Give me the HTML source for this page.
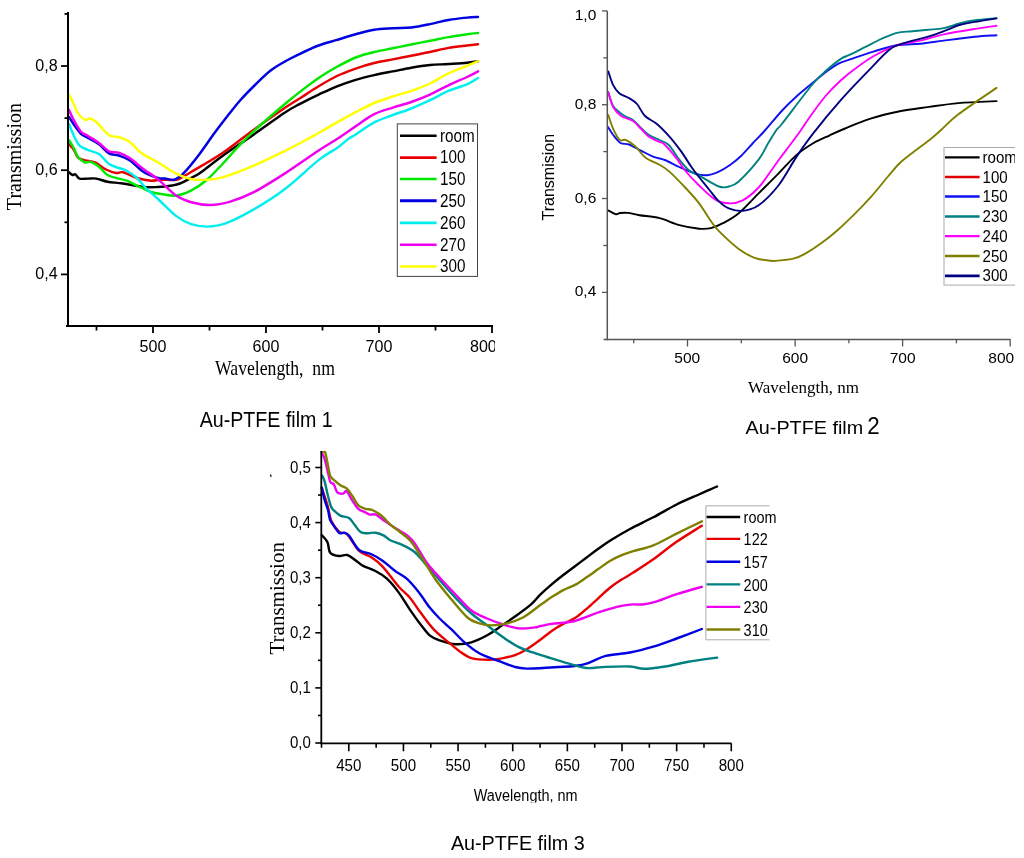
<!DOCTYPE html>
<html><head><meta charset="utf-8"><title>Au-PTFE films transmission</title>
<style>html,body{margin:0;padding:0;background:#fff;} svg{display:block;filter:blur(0.4px);}</style></head>
<body><svg width="1024" height="858" viewBox="0 0 1024 858">
<rect width="1024" height="858" fill="#fff"/>
<defs><clipPath id="cl1"><rect x="0" y="0" width="495" height="440"/></clipPath><clipPath id="cl2"><rect x="520" y="0" width="495" height="440"/></clipPath><clipPath id="cl3"><rect x="260" y="451" width="520" height="352"/></clipPath><clipPath id="cl3b"><rect x="260" y="440" width="520" height="362.5"/></clipPath></defs>
<g clip-path="url(#cl1)">
<g fill="none" stroke-width="2.45" stroke-linejoin="round" stroke-linecap="round">
<path d="M69.0,172.3 C69.6,172.8 71.5,174.7 72.6,175.0 C73.7,175.3 74.2,173.8 75.4,174.4 C76.6,175.0 77.5,177.9 79.6,178.6 C81.7,179.3 85.2,178.6 88.0,178.6 C90.8,178.6 93.2,178.1 96.4,178.6 C99.7,179.1 103.1,181.0 107.5,181.8 C111.9,182.6 116.9,182.6 123.0,183.5 C129.1,184.4 138.2,186.4 144.0,187.0 C149.8,187.6 153.3,187.2 158.0,187.0 C162.7,186.8 168.3,186.1 172.0,185.5 C175.7,184.9 176.8,184.8 180.0,183.5 C183.2,182.2 187.7,179.8 191.0,178.0 C194.3,176.2 194.8,176.7 200.0,173.0 C205.2,169.3 213.5,162.4 222.5,156.0 C231.5,149.6 243.4,141.7 253.8,134.4 C264.2,127.2 277.3,117.6 285.0,112.5 C292.7,107.4 294.4,106.9 300.0,103.9 C305.6,100.9 312.4,97.5 318.6,94.6 C324.8,91.7 330.8,88.8 337.0,86.3 C343.2,83.8 349.5,81.7 355.7,79.8 C361.9,77.9 368.0,76.5 374.2,75.1 C380.4,73.7 386.6,72.6 392.8,71.4 C399.0,70.2 405.1,68.8 411.3,67.7 C417.5,66.6 423.8,65.6 430.0,65.0 C436.2,64.4 442.2,64.4 448.4,64.0 C454.6,63.6 462.1,63.2 467.0,62.7 C471.9,62.2 476.2,61.5 478.0,61.2" stroke="#000000"/>
<path d="M69.0,144.3 C69.8,145.2 72.5,147.8 74.0,150.0 C75.5,152.2 76.2,155.9 78.0,157.6 C79.8,159.3 82.2,159.6 85.0,160.4 C87.8,161.2 91.5,161.0 95.0,162.5 C98.5,164.0 102.5,167.8 106.0,169.5 C109.5,171.2 113.2,172.5 116.0,173.0 C118.8,173.5 119.5,171.5 123.0,172.3 C126.5,173.1 132.3,176.6 137.0,178.0 C141.7,179.4 147.2,180.4 151.0,180.7 C154.8,181.0 156.5,179.8 160.0,179.7 C163.5,179.6 168.9,180.1 172.0,180.0 C175.1,179.9 175.6,180.3 178.8,179.0 C182.0,177.7 183.7,176.3 191.0,172.0 C198.3,167.7 212.0,160.1 222.5,153.0 C233.0,145.9 243.4,137.2 253.8,129.7 C264.2,122.2 277.3,113.0 285.0,107.8 C292.7,102.6 294.4,101.9 300.0,98.3 C305.6,94.7 312.4,90.0 318.6,86.3 C324.8,82.6 330.8,79.0 337.0,76.0 C343.2,73.0 349.5,70.8 355.7,68.6 C361.9,66.4 368.0,64.5 374.2,63.0 C380.4,61.5 386.6,60.6 392.8,59.4 C399.0,58.2 405.1,56.9 411.3,55.7 C417.5,54.5 423.8,53.3 430.0,52.0 C436.2,50.7 442.2,49.0 448.4,47.9 C454.6,46.8 462.1,46.1 467.0,45.5 C471.9,44.9 476.2,44.4 478.0,44.2" stroke="#e80000"/>
<path d="M69.0,140.0 C69.8,141.4 72.5,145.7 74.0,148.5 C75.5,151.3 76.2,154.7 78.0,157.0 C79.8,159.3 82.9,161.7 85.0,162.5 C87.1,163.3 88.5,161.1 90.8,161.8 C93.1,162.5 96.2,164.5 99.0,166.7 C101.8,168.9 104.2,173.0 107.5,175.0 C110.8,177.0 115.5,177.7 118.7,178.6 C122.0,179.5 123.7,179.4 127.0,180.7 C130.3,182.0 134.3,184.4 138.3,186.3 C142.3,188.2 147.4,190.8 151.0,192.0 C154.6,193.2 155.9,193.2 160.0,193.8 C164.1,194.3 170.4,196.1 175.6,195.6 C180.8,195.1 185.8,193.2 191.0,190.6 C196.2,187.9 201.8,184.1 207.0,179.7 C212.2,175.3 217.3,169.5 222.5,164.0 C227.7,158.5 232.8,152.4 238.0,146.9 C243.2,141.4 248.6,136.2 253.8,131.2 C259.0,126.3 263.4,122.4 269.4,117.2 C275.4,112.0 284.6,104.2 289.7,100.0 C294.8,95.8 295.2,95.5 300.0,91.8 C304.8,88.1 312.4,82.2 318.6,78.0 C324.8,73.8 330.8,70.2 337.0,66.8 C343.2,63.4 349.5,60.0 355.7,57.5 C361.9,55.0 368.0,53.5 374.2,52.0 C380.4,50.5 386.6,49.5 392.8,48.2 C399.0,47.0 405.1,45.7 411.3,44.5 C417.5,43.3 423.8,42.0 430.0,40.8 C436.2,39.6 442.2,38.2 448.4,37.1 C454.6,36.0 462.1,35.0 467.0,34.3 C471.9,33.6 476.2,33.2 478.0,33.0" stroke="#00e800"/>
<path d="M69.0,117.0 C69.8,118.3 72.0,122.0 74.0,124.8 C76.0,127.6 78.7,131.6 81.0,133.8 C83.3,136.0 85.0,136.2 88.0,138.0 C91.0,139.8 95.5,141.7 99.0,144.3 C102.5,146.9 105.7,151.5 109.0,153.4 C112.3,155.3 115.2,154.3 118.7,155.5 C122.2,156.7 125.8,157.6 130.0,160.4 C134.2,163.2 139.3,169.4 144.0,172.3 C148.7,175.2 154.5,176.9 158.0,177.9 C161.5,178.9 162.3,178.2 165.0,178.5 C167.7,178.8 170.9,180.5 174.0,179.7 C177.1,178.8 179.2,177.6 183.4,173.4 C187.6,169.2 193.8,161.5 199.0,154.7 C204.2,147.9 209.5,139.8 214.7,132.8 C219.9,125.8 226.0,118.0 230.3,112.5 C234.6,107.0 236.2,104.8 240.5,100.0 C244.8,95.2 251.1,88.8 256.0,84.0 C260.9,79.2 265.2,74.8 270.0,71.0 C274.8,67.2 280.0,64.4 285.0,61.5 C290.0,58.6 294.4,56.5 300.0,53.8 C305.6,51.1 312.4,47.8 318.6,45.5 C324.8,43.2 330.8,41.8 337.0,39.9 C343.2,38.0 349.5,36.0 355.7,34.3 C361.9,32.6 368.0,30.7 374.2,29.7 C380.4,28.7 386.6,28.6 392.8,28.2 C399.0,27.8 405.1,28.2 411.3,27.5 C417.5,26.8 423.8,25.4 430.0,24.1 C436.2,22.9 442.2,21.1 448.4,20.0 C454.6,18.9 462.1,18.1 467.0,17.6 C471.9,17.1 476.2,17.1 478.0,17.0" stroke="#0000e0"/>
<path d="M69.0,124.0 C69.8,126.0 72.2,132.4 74.0,136.0 C75.8,139.6 77.3,143.4 79.6,145.7 C81.9,148.0 84.8,148.6 88.0,150.0 C91.2,151.4 95.5,151.7 99.0,154.0 C102.5,156.3 105.7,161.7 109.0,164.0 C112.3,166.3 115.9,167.0 118.7,168.0 C121.5,169.0 122.7,168.5 125.7,170.2 C128.8,171.9 133.5,174.9 137.0,178.0 C140.5,181.1 143.2,185.5 146.7,189.0 C150.2,192.5 153.2,194.6 158.0,199.0 C162.8,203.4 170.1,211.4 175.6,215.6 C181.1,219.8 186.0,222.4 191.2,224.2 C196.5,226.0 201.3,226.7 207.0,226.6 C212.7,226.5 217.8,226.3 225.6,223.4 C233.4,220.5 243.9,215.1 253.8,209.4 C263.7,203.7 274.1,197.3 285.0,189.0 C295.9,180.7 310.7,166.2 319.4,159.4 C328.1,152.6 332.2,151.4 337.0,148.0 C341.8,144.6 345.1,141.3 348.2,139.1 C351.3,136.8 351.4,137.3 355.7,134.5 C360.0,131.7 368.0,125.7 374.2,122.4 C380.4,119.2 386.6,117.3 392.8,115.0 C399.0,112.7 405.1,111.0 411.3,108.5 C417.5,106.0 423.8,103.1 430.0,100.2 C436.2,97.3 442.2,93.5 448.4,90.9 C454.6,88.3 462.1,86.6 467.0,84.4 C471.9,82.2 476.2,79.1 478.0,78.0" stroke="#00f0f0"/>
<path d="M69.0,110.0 C69.8,111.8 72.0,117.0 74.0,120.6 C76.0,124.2 78.7,129.1 81.0,131.7 C83.3,134.3 85.0,134.1 88.0,136.0 C91.0,137.9 95.5,140.4 99.0,143.0 C102.5,145.6 105.7,149.7 109.0,151.3 C112.3,152.9 115.2,151.5 118.7,152.7 C122.2,153.9 125.8,155.5 130.0,158.3 C134.2,161.1 139.3,166.0 144.0,169.5 C148.7,173.0 152.7,175.0 158.0,179.3 C163.3,183.6 170.1,191.5 175.6,195.3 C181.1,199.1 185.5,200.7 191.2,202.3 C197.0,203.9 203.5,205.1 210.0,205.0 C216.5,204.9 223.0,203.7 230.3,201.6 C237.6,199.5 244.7,196.9 253.8,192.2 C262.9,187.5 274.1,180.4 285.0,173.4 C295.9,166.4 310.7,155.7 319.4,150.0 C328.1,144.3 330.9,143.1 337.0,139.1 C343.1,135.1 349.5,130.4 355.7,126.2 C361.9,122.0 368.0,117.2 374.2,114.1 C380.4,111.0 386.6,109.6 392.8,107.6 C399.0,105.6 405.1,104.2 411.3,102.0 C417.5,99.8 423.8,97.4 430.0,94.6 C436.2,91.8 442.2,88.2 448.4,85.3 C454.6,82.4 462.1,79.3 467.0,77.0 C471.9,74.7 476.2,72.3 478.0,71.4" stroke="#f000f0"/>
<path d="M69.0,94.7 C69.8,96.3 72.5,101.3 74.0,104.5 C75.5,107.7 76.3,111.0 78.2,113.6 C80.1,116.2 83.3,119.1 85.2,119.9 C87.1,120.7 87.5,118.2 89.4,118.5 C91.3,118.8 93.1,119.2 96.4,122.0 C99.7,124.8 105.1,132.6 109.0,135.2 C112.9,137.8 116.5,136.1 120.0,137.3 C123.5,138.5 126.5,139.6 130.0,142.2 C133.5,144.8 136.3,149.3 141.0,152.7 C145.7,156.1 152.2,159.1 158.0,162.5 C163.8,165.9 170.1,170.7 175.6,173.4 C181.1,176.2 185.8,177.9 191.0,179.0 C196.2,180.1 201.8,180.0 207.0,179.7 C212.2,179.4 214.7,179.7 222.5,177.3 C230.3,175.0 243.4,170.0 253.8,165.6 C264.2,161.2 276.3,155.1 285.0,150.8 C293.7,146.5 300.3,143.1 306.0,140.0 C311.7,136.9 314.2,135.4 319.4,132.5 C324.6,129.6 330.9,125.8 337.0,122.4 C343.1,119.0 349.5,115.4 355.7,112.2 C361.9,109.0 368.0,105.6 374.2,103.0 C380.4,100.4 386.6,98.5 392.8,96.5 C399.0,94.5 405.1,93.1 411.3,90.9 C417.5,88.7 423.8,86.4 430.0,83.5 C436.2,80.6 442.2,76.2 448.4,73.3 C454.6,70.4 462.1,67.9 467.0,65.9 C471.9,63.9 476.2,62.0 478.0,61.2" stroke="#ffff00"/>
</g>
<line x1="68" y1="12" x2="68" y2="327" stroke="#000" stroke-width="2"/>
<line x1="66" y1="326" x2="493" y2="326" stroke="#000" stroke-width="2"/>
<line x1="61" y1="274.4" x2="68" y2="274.4" stroke="#000" stroke-width="1.8"/>
<line x1="61" y1="170.2" x2="68" y2="170.2" stroke="#000" stroke-width="1.8"/>
<line x1="61" y1="66.0" x2="68" y2="66.0" stroke="#000" stroke-width="1.8"/>
<line x1="64.5" y1="222.3" x2="68" y2="222.3" stroke="#000" stroke-width="1.8"/>
<line x1="64.5" y1="118.1" x2="68" y2="118.1" stroke="#000" stroke-width="1.8"/>
<line x1="64.5" y1="13.9" x2="68" y2="13.9" stroke="#000" stroke-width="1.8"/>
<line x1="153" y1="326" x2="153" y2="333" stroke="#000" stroke-width="1.8"/>
<line x1="266" y1="326" x2="266" y2="333" stroke="#000" stroke-width="1.8"/>
<line x1="379" y1="326" x2="379" y2="333" stroke="#000" stroke-width="1.8"/>
<line x1="492" y1="326" x2="492" y2="333" stroke="#000" stroke-width="1.8"/>
<line x1="96.5" y1="326" x2="96.5" y2="330.5" stroke="#000" stroke-width="1.8"/>
<line x1="209.5" y1="326" x2="209.5" y2="330.5" stroke="#000" stroke-width="1.8"/>
<line x1="322.5" y1="326" x2="322.5" y2="330.5" stroke="#000" stroke-width="1.8"/>
<line x1="435.5" y1="326" x2="435.5" y2="330.5" stroke="#000" stroke-width="1.8"/>
<text transform="translate(57.6,279.4) scale(0.93,1)" font-family='"Liberation Sans", sans-serif' font-size="17.3" text-anchor="end" fill="#000" >0,4</text>
<text transform="translate(57.6,175.2) scale(0.93,1)" font-family='"Liberation Sans", sans-serif' font-size="17.3" text-anchor="end" fill="#000" >0,6</text>
<text transform="translate(57.6,71.0) scale(0.93,1)" font-family='"Liberation Sans", sans-serif' font-size="17.3" text-anchor="end" fill="#000" >0,8</text>
<text transform="translate(153,352) scale(0.93,1)" font-family='"Liberation Sans", sans-serif' font-size="17.3" text-anchor="middle" fill="#000" >500</text>
<text transform="translate(266,352) scale(0.93,1)" font-family='"Liberation Sans", sans-serif' font-size="17.3" text-anchor="middle" fill="#000" >600</text>
<text transform="translate(379,352) scale(0.93,1)" font-family='"Liberation Sans", sans-serif' font-size="17.3" text-anchor="middle" fill="#000" >700</text>
<text transform="translate(483.4,352) scale(0.93,1)" font-family='"Liberation Sans", sans-serif' font-size="17.3" text-anchor="middle" fill="#000" >800</text>
<text transform="translate(21,156.6) rotate(-90)" font-family='"Liberation Serif", serif' font-size="20" text-anchor="middle" fill="#000" >Transmission</text>
<text transform="translate(215.0,375.3) scale(0.885,1)" font-family='"Liberation Serif", serif' font-size="20" text-anchor="start" fill="#000" >Wavelength,&#160; nm</text>
<rect x="397.3" y="123.9" width="80.2" height="152.5" fill="#fff" stroke="#444" stroke-width="1"/>
<line x1="400" y1="135.8" x2="436.6" y2="135.8" stroke="#000" stroke-width="2.6"/>
<text transform="translate(440.0,141.60000000000002) scale(0.87,1)" font-family='"Liberation Sans", sans-serif' font-size="17.5" text-anchor="start" fill="#000" >room</text>
<line x1="400" y1="157.6" x2="436.6" y2="157.6" stroke="#e80000" stroke-width="2.6"/>
<text transform="translate(440.0,163.4) scale(0.87,1)" font-family='"Liberation Sans", sans-serif' font-size="17.5" text-anchor="start" fill="#000" >100</text>
<line x1="400" y1="179.0" x2="436.6" y2="179.0" stroke="#00e800" stroke-width="2.6"/>
<text transform="translate(440.0,184.8) scale(0.87,1)" font-family='"Liberation Sans", sans-serif' font-size="17.5" text-anchor="start" fill="#000" >150</text>
<line x1="400" y1="200.7" x2="436.6" y2="200.7" stroke="#0000e0" stroke-width="3.0"/>
<text transform="translate(440.0,206.5) scale(0.87,1)" font-family='"Liberation Sans", sans-serif' font-size="17.5" text-anchor="start" fill="#000" >250</text>
<line x1="400" y1="222.9" x2="436.6" y2="222.9" stroke="#00f0f0" stroke-width="2.6"/>
<text transform="translate(440.0,228.70000000000002) scale(0.87,1)" font-family='"Liberation Sans", sans-serif' font-size="17.5" text-anchor="start" fill="#000" >260</text>
<line x1="400" y1="244.7" x2="436.6" y2="244.7" stroke="#f000f0" stroke-width="2.6"/>
<text transform="translate(440.0,250.5) scale(0.87,1)" font-family='"Liberation Sans", sans-serif' font-size="17.5" text-anchor="start" fill="#000" >270</text>
<line x1="400" y1="266.5" x2="436.6" y2="266.5" stroke="#ffff00" stroke-width="2.6"/>
<text transform="translate(440.0,272.3) scale(0.87,1)" font-family='"Liberation Sans", sans-serif' font-size="17.5" text-anchor="start" fill="#000" >300</text>
</g>
<text transform="translate(199.7,426.9) scale(0.905,1)" font-family='"Liberation Sans", sans-serif' font-size="21.7" text-anchor="start" fill="#000" >Au-PTFE film 1</text>
<g clip-path="url(#cl2)">
<g fill="none" stroke-width="1.9" stroke-linejoin="round" stroke-linecap="round">
<path d="M608.0,210.3 C609.3,211.0 613.9,213.8 615.9,214.2 C617.9,214.6 618.0,213.2 620.0,213.0 C622.0,212.8 624.4,212.5 627.7,212.9 C631.0,213.3 634.3,214.3 639.6,215.2 C644.9,216.1 652.9,216.5 659.5,218.2 C666.1,219.8 672.7,223.3 679.3,225.1 C685.9,226.8 693.8,228.2 699.1,228.7 C704.4,229.2 707.0,229.0 711.0,228.1 C715.0,227.2 718.3,225.7 722.9,223.2 C727.5,220.7 732.8,218.2 738.7,213.2 C744.7,208.2 752.0,200.0 758.6,193.4 C765.2,186.8 772.1,180.0 778.4,173.6 C784.7,167.2 790.8,159.9 796.6,154.9 C802.4,149.9 807.7,146.6 813.2,143.3 C818.7,140.0 824.5,137.8 829.8,135.3 C835.1,132.8 838.2,131.3 845.0,128.5 C851.8,125.7 861.4,121.6 870.5,118.7 C879.6,115.8 890.0,113.3 899.8,111.3 C909.6,109.3 919.3,108.3 929.1,106.9 C938.9,105.5 947.2,104.1 958.4,103.1 C969.6,102.1 990.1,101.4 996.5,101.1" stroke="#000000"/>
<path d="M608.0,127.0 C608.9,128.3 611.1,132.3 613.2,135.0 C615.3,137.7 617.9,141.4 620.5,143.0 C623.1,144.6 625.6,143.2 629.0,144.5 C632.4,145.8 637.0,148.6 641.0,150.6 C645.0,152.6 648.9,155.0 652.9,156.6 C656.9,158.2 660.4,158.3 664.8,160.0 C669.2,161.7 674.2,164.7 679.3,167.0 C684.3,169.3 690.5,172.2 695.1,173.6 C699.7,175.0 703.0,175.5 707.0,175.2 C711.0,174.9 715.1,173.3 718.9,171.6 C722.7,169.9 726.3,167.6 730.0,165.0 C733.7,162.4 737.2,159.7 741.0,156.0 C744.8,152.3 749.1,147.2 753.0,143.0 C756.9,138.8 759.6,136.5 764.5,131.0 C769.4,125.5 777.2,115.8 782.6,110.0 C788.0,104.2 792.1,100.4 797.0,96.0 C801.9,91.6 807.1,87.5 811.9,83.5 C816.7,79.5 821.6,75.3 826.0,72.0 C830.4,68.7 834.0,65.9 838.0,63.8 C842.0,61.7 844.1,61.4 850.0,59.4 C855.9,57.4 865.6,54.0 873.4,51.6 C881.2,49.2 889.1,46.6 896.9,45.3 C904.7,44.0 912.5,44.5 920.3,43.8 C928.1,43.0 934.6,41.8 943.8,40.6 C952.9,39.4 966.2,37.6 975.0,36.7 C983.8,35.8 992.9,35.5 996.5,35.2" stroke="#1010f0"/>
<path d="M608.3,92.0 C609.1,94.3 610.7,102.2 613.2,106.0 C615.7,109.8 619.9,112.7 623.2,115.0 C626.5,117.3 630.0,117.8 633.0,120.0 C636.0,122.2 638.3,125.5 641.0,128.0 C643.7,130.5 645.9,133.0 649.0,135.0 C652.1,137.0 656.2,138.3 659.5,140.0 C662.8,141.7 665.5,141.7 668.8,145.0 C672.1,148.3 676.0,155.5 679.3,159.7 C682.6,163.9 685.3,167.3 688.6,170.0 C691.9,172.7 694.1,172.8 699.1,175.6 C704.1,178.3 714.0,184.7 718.9,186.5 C723.8,188.3 725.5,187.3 728.8,186.5 C732.1,185.7 733.7,186.0 738.7,181.5 C743.7,177.0 753.7,166.0 758.6,159.7 C763.5,153.4 765.0,148.5 768.0,143.6 C771.0,138.7 774.0,133.4 776.4,130.0 C778.8,126.6 776.7,130.5 782.6,123.0 C788.5,115.5 804.6,93.8 811.9,85.0 C819.2,76.2 821.6,74.7 826.5,70.3 C831.4,65.9 837.3,61.2 841.2,58.6 C845.1,56.0 845.9,56.7 850.0,54.7 C854.1,52.8 860.4,49.5 865.6,46.9 C870.8,44.3 876.0,41.4 881.2,39.0 C886.5,36.6 891.7,34.1 896.9,32.8 C902.1,31.5 907.3,31.8 912.5,31.2 C917.7,30.7 922.9,30.2 928.1,29.7 C933.3,29.2 938.5,29.2 943.8,28.1 C949.0,27.1 954.2,24.7 959.4,23.4 C964.6,22.1 968.8,21.2 975.0,20.3 C981.2,19.4 992.9,18.6 996.5,18.2" stroke="#008080"/>
<path d="M608.3,92.2 C609.1,94.7 611.1,103.0 613.2,107.0 C615.4,111.0 617.9,113.7 621.2,116.0 C624.5,118.3 629.7,118.9 633.0,121.0 C636.3,123.1 638.3,126.2 641.0,128.8 C643.7,131.4 645.9,134.6 649.0,136.8 C652.1,139.0 656.9,140.6 659.5,141.9 C662.1,143.2 661.9,141.9 664.8,144.7 C667.7,147.5 673.4,154.4 676.7,158.6 C680.0,162.8 680.9,165.5 684.6,170.0 C688.3,174.5 694.0,180.6 699.1,185.5 C704.2,190.4 710.0,196.4 715.0,199.4 C720.0,202.4 724.2,203.1 728.8,203.3 C733.4,203.5 737.7,203.0 742.7,200.4 C747.7,197.8 753.9,192.4 758.6,187.5 C763.3,182.6 767.3,175.9 770.9,171.0 C774.5,166.1 776.8,162.5 780.0,158.2 C783.2,153.9 786.7,149.4 790.0,145.0 C793.3,140.6 796.4,136.7 800.0,131.5 C803.6,126.3 807.6,120.0 811.9,114.0 C816.2,108.0 821.1,101.2 826.0,95.5 C830.9,89.8 836.4,84.4 841.2,80.0 C846.0,75.6 849.3,73.0 854.7,69.0 C860.1,65.0 866.4,60.2 873.4,56.2 C880.4,52.3 889.1,47.9 896.9,45.3 C904.7,42.7 912.5,42.4 920.3,40.6 C928.1,38.8 934.6,36.4 943.8,34.4 C952.9,32.4 966.2,30.3 975.0,28.9 C983.8,27.5 992.9,26.3 996.5,25.8" stroke="#ff00ff"/>
<path d="M608.3,115.0 C609.1,117.3 611.3,124.7 613.2,128.8 C615.1,133.0 617.7,138.1 619.8,139.9 C621.9,141.8 623.1,138.8 625.8,139.9 C628.4,141.1 632.4,143.8 635.7,146.8 C639.0,149.8 641.6,154.8 645.6,157.8 C649.6,160.8 655.5,162.4 659.5,164.7 C663.5,167.0 665.1,167.8 669.4,171.6 C673.7,175.4 680.2,182.2 685.2,187.5 C690.2,192.8 694.8,197.7 699.1,203.3 C703.4,208.9 707.7,216.6 711.0,221.2 C714.3,225.8 714.3,226.5 718.9,231.1 C723.5,235.7 732.8,244.4 738.7,248.9 C744.7,253.4 749.3,255.8 754.6,257.8 C759.9,259.8 766.3,260.4 770.5,260.8 C774.7,261.2 776.2,260.8 780.0,260.4 C783.8,260.0 789.1,259.8 793.3,258.7 C797.4,257.6 800.2,256.4 804.9,253.8 C809.6,251.2 816.0,247.0 821.5,243.0 C827.0,239.0 832.6,234.5 838.1,229.7 C843.6,224.8 849.2,219.4 854.8,213.9 C860.3,208.4 865.9,202.6 871.4,196.4 C876.9,190.2 883.3,182.0 888.0,176.5 C892.7,171.0 895.5,167.2 899.6,163.2 C903.8,159.2 907.9,156.3 912.9,152.4 C917.9,148.5 924.8,143.7 929.5,140.0 C934.2,136.3 936.3,134.3 941.1,130.0 C945.9,125.7 949.2,121.3 958.4,114.3 C967.6,107.3 990.1,92.3 996.5,87.9" stroke="#808000"/>
<path d="M608.3,71.4 C609.1,73.7 611.4,81.6 613.2,85.2 C615.0,88.8 616.6,91.1 619.2,93.2 C621.9,95.3 626.1,96.3 629.1,98.1 C632.1,99.9 634.4,101.0 637.0,104.0 C639.6,107.0 641.7,112.7 645.0,116.0 C648.3,119.3 652.9,120.6 656.9,123.9 C660.9,127.2 664.8,131.4 668.8,135.8 C672.8,140.2 676.6,145.2 680.6,150.6 C684.6,156.0 687.8,162.0 692.5,168.5 C697.2,175.0 704.6,184.0 709.0,189.5 C713.4,195.0 715.6,198.3 718.9,201.4 C722.2,204.5 724.8,206.7 728.8,208.3 C732.8,209.9 737.7,211.4 742.7,210.9 C747.7,210.4 752.7,209.5 758.6,205.3 C764.5,201.1 772.1,193.6 778.4,185.5 C784.7,177.4 790.8,165.3 796.6,156.6 C802.4,147.9 805.8,142.8 813.2,133.3 C820.6,123.8 831.7,110.4 841.2,99.6 C850.7,88.8 862.3,77.0 870.3,68.8 C878.3,60.5 883.8,54.2 889.0,50.0 C894.2,45.8 895.1,46.0 901.6,43.8 C908.1,41.5 921.1,38.8 928.1,36.7 C935.1,34.6 938.5,33.2 943.8,31.2 C949.0,29.3 954.2,26.6 959.4,25.0 C964.6,23.4 968.8,23.0 975.0,21.9 C981.2,20.8 992.9,19.0 996.5,18.4" stroke="#000080"/>
</g>
<line x1="607.3" y1="10.9" x2="607.3" y2="340.3" stroke="#555" stroke-width="1.5"/>
<line x1="603.5" y1="339.6" x2="1010.5" y2="339.6" stroke="#555" stroke-width="1.5"/>
<line x1="602" y1="10.9" x2="607.3" y2="10.9" stroke="#555" stroke-width="1.3"/>
<line x1="602" y1="104.7" x2="607.3" y2="104.7" stroke="#555" stroke-width="1.3"/>
<line x1="602" y1="198.5" x2="607.3" y2="198.5" stroke="#555" stroke-width="1.3"/>
<line x1="602" y1="292.4" x2="607.3" y2="292.4" stroke="#555" stroke-width="1.3"/>
<line x1="603.3" y1="57.8" x2="607.3" y2="57.8" stroke="#555" stroke-width="1.3"/>
<line x1="603.3" y1="151.6" x2="607.3" y2="151.6" stroke="#555" stroke-width="1.3"/>
<line x1="603.3" y1="245.5" x2="607.3" y2="245.5" stroke="#555" stroke-width="1.3"/>
<line x1="687.5" y1="339.6" x2="687.5" y2="346.5" stroke="#555" stroke-width="1.3"/>
<line x1="795.1" y1="339.6" x2="795.1" y2="346.5" stroke="#555" stroke-width="1.3"/>
<line x1="902.6" y1="339.6" x2="902.6" y2="346.5" stroke="#555" stroke-width="1.3"/>
<line x1="1010.2" y1="339.6" x2="1010.2" y2="346.5" stroke="#555" stroke-width="1.3"/>
<line x1="633.7" y1="339.6" x2="633.7" y2="343.3" stroke="#555" stroke-width="1.3"/>
<line x1="741.3" y1="339.6" x2="741.3" y2="343.3" stroke="#555" stroke-width="1.3"/>
<line x1="848.9" y1="339.6" x2="848.9" y2="343.3" stroke="#555" stroke-width="1.3"/>
<line x1="956.4" y1="339.6" x2="956.4" y2="343.3" stroke="#555" stroke-width="1.3"/>
<text transform="translate(596.3,19.8)" font-family='"Liberation Sans", sans-serif' font-size="15.5" text-anchor="end" fill="#000" >1,0</text>
<text transform="translate(596.3,108.7)" font-family='"Liberation Sans", sans-serif' font-size="15.5" text-anchor="end" fill="#000" >0,8</text>
<text transform="translate(596.3,202.5)" font-family='"Liberation Sans", sans-serif' font-size="15.5" text-anchor="end" fill="#000" >0,6</text>
<text transform="translate(596.3,296.4)" font-family='"Liberation Sans", sans-serif' font-size="15.5" text-anchor="end" fill="#000" >0,4</text>
<text transform="translate(687.3,363)" font-family='"Liberation Sans", sans-serif' font-size="15.5" text-anchor="middle" fill="#000" >500</text>
<text transform="translate(795.1,363)" font-family='"Liberation Sans", sans-serif' font-size="15.5" text-anchor="middle" fill="#000" >600</text>
<text transform="translate(902.6,363)" font-family='"Liberation Sans", sans-serif' font-size="15.5" text-anchor="middle" fill="#000" >700</text>
<text transform="translate(1001.2,363)" font-family='"Liberation Sans", sans-serif' font-size="15.5" text-anchor="middle" fill="#000" >800</text>
<text transform="translate(554.4,177.2) rotate(-90)" font-family='"Liberation Sans", sans-serif' font-size="16" text-anchor="middle" fill="#000" >Transmision</text>
<text transform="translate(748,393.1)" font-family='"Liberation Serif", serif' font-size="17" text-anchor="start" fill="#000" >Wavelength, nm</text>
<rect x="944" y="147.5" width="80" height="137.6" fill="#fff" stroke="#aaa" stroke-width="1"/>
<line x1="945" y1="157.4" x2="979.6" y2="157.4" stroke="#000" stroke-width="2.3"/>
<text transform="translate(982.6,163.0) scale(0.93,1)" font-family='"Liberation Sans", sans-serif' font-size="16.2" text-anchor="start" fill="#000" >room</text>
<line x1="945" y1="177.0" x2="979.6" y2="177.0" stroke="#e00000" stroke-width="2.3"/>
<text transform="translate(982.6,182.6) scale(0.93,1)" font-family='"Liberation Sans", sans-serif' font-size="16.2" text-anchor="start" fill="#000" >100</text>
<line x1="945" y1="196.5" x2="979.6" y2="196.5" stroke="#1010f0" stroke-width="2.3"/>
<text transform="translate(982.6,202.1) scale(0.93,1)" font-family='"Liberation Sans", sans-serif' font-size="16.2" text-anchor="start" fill="#000" >150</text>
<line x1="945" y1="216.5" x2="979.6" y2="216.5" stroke="#008080" stroke-width="2.3"/>
<text transform="translate(982.6,222.1) scale(0.93,1)" font-family='"Liberation Sans", sans-serif' font-size="16.2" text-anchor="start" fill="#000" >230</text>
<line x1="945" y1="236.1" x2="979.6" y2="236.1" stroke="#ff00ff" stroke-width="2.3"/>
<text transform="translate(982.6,241.7) scale(0.93,1)" font-family='"Liberation Sans", sans-serif' font-size="16.2" text-anchor="start" fill="#000" >240</text>
<line x1="945" y1="256.0" x2="979.6" y2="256.0" stroke="#808000" stroke-width="2.7"/>
<text transform="translate(982.6,261.6) scale(0.93,1)" font-family='"Liberation Sans", sans-serif' font-size="16.2" text-anchor="start" fill="#000" >250</text>
<line x1="945" y1="275.8" x2="979.6" y2="275.8" stroke="#000080" stroke-width="2.7"/>
<text transform="translate(982.6,281.40000000000003) scale(0.93,1)" font-family='"Liberation Sans", sans-serif' font-size="16.2" text-anchor="start" fill="#000" >300</text>
</g>
<text transform="translate(745.6,434) scale(1.07,1)" font-family='"Liberation Sans", sans-serif' font-size="18.5" text-anchor="start" fill="#000" >Au-PTFE film</text>
<text transform="translate(867.3,434.2) scale(0.95,1)" font-family='"Liberation Sans", sans-serif' font-size="23.5" text-anchor="start" fill="#000" >2</text>
<g clip-path="url(#cl3)">
<g fill="none" stroke-width="2.4" stroke-linejoin="round" stroke-linecap="round">
<path d="M321.8,535.1 C322.7,536.3 326.0,539.1 327.4,542.1 C328.8,545.1 328.4,550.7 330.4,553.0 C332.4,555.3 336.5,555.7 339.3,556.0 C342.1,556.3 344.6,554.4 347.2,555.0 C349.8,555.6 352.5,558.1 355.1,559.9 C357.8,561.7 359.8,564.1 363.1,565.9 C366.4,567.7 371.0,568.7 375.0,570.8 C379.0,572.9 382.9,575.1 386.9,578.7 C390.9,582.3 395.0,587.5 398.8,592.6 C402.6,597.8 406.4,604.5 409.9,609.6 C413.4,614.7 416.5,619.1 419.8,623.4 C423.1,627.7 426.4,632.5 429.7,635.3 C433.0,638.1 435.3,638.8 439.6,640.3 C443.9,641.8 450.2,643.9 455.5,644.2 C460.8,644.5 466.1,643.8 471.4,642.3 C476.7,640.8 482.6,637.8 487.2,635.3 C491.8,632.8 494.5,630.5 499.1,627.4 C503.7,624.3 509.7,620.3 515.0,616.5 C520.3,612.7 526.6,608.2 530.8,604.6 C535.0,601.0 536.5,598.2 540.0,594.8 C543.5,591.4 547.8,587.6 551.7,584.3 C555.6,581.0 559.4,578.0 563.3,575.0 C567.2,572.0 571.1,569.1 575.0,566.2 C578.9,563.3 582.7,560.4 586.6,557.5 C590.5,554.6 594.2,551.6 598.3,548.7 C602.4,545.8 605.8,543.3 611.1,540.0 C616.4,536.7 623.0,532.8 630.0,529.0 C637.0,525.2 645.5,521.4 653.3,517.3 C661.1,513.2 668.8,508.4 676.6,504.5 C684.4,500.6 693.3,497.0 700.0,494.0 C706.7,491.0 714.2,487.8 717.0,486.5" stroke="#000000"/>
<path d="M321.8,488.0 C322.7,490.8 325.8,499.5 327.4,505.0 C329.0,510.5 329.4,516.5 331.4,521.0 C333.4,525.5 336.7,529.8 339.3,532.0 C341.9,534.2 343.9,531.3 347.2,534.5 C350.5,537.7 355.1,547.2 359.1,551.0 C363.1,554.8 367.0,554.4 371.0,557.0 C375.0,559.6 378.3,561.9 382.9,566.9 C387.5,571.9 394.3,581.6 398.8,586.7 C403.3,591.8 406.4,593.6 409.9,597.7 C413.4,601.8 415.8,606.2 419.8,611.5 C423.8,616.8 428.7,624.1 433.7,629.4 C438.7,634.7 445.3,639.6 449.6,643.2 C453.9,646.8 455.9,648.7 459.5,651.2 C463.1,653.7 466.4,656.7 471.4,658.1 C476.3,659.5 483.9,659.7 489.2,659.7 C494.5,659.7 498.8,658.9 503.1,658.1 C507.4,657.3 511.0,656.6 515.0,655.1 C519.0,653.6 522.7,651.7 526.9,649.2 C531.1,646.7 535.9,643.0 540.0,640.0 C544.1,637.0 547.8,633.6 551.7,630.9 C555.6,628.2 559.4,626.0 563.3,623.9 C567.2,621.8 571.1,620.6 575.0,618.1 C578.9,615.6 582.7,612.1 586.6,608.8 C590.5,605.5 594.4,601.8 598.3,598.3 C602.2,594.8 606.0,590.9 609.9,587.8 C613.8,584.7 617.7,582.1 621.6,579.6 C625.5,577.1 627.9,576.0 633.2,572.6 C638.5,569.2 646.1,564.4 653.3,559.3 C660.5,554.2 668.5,547.4 676.6,541.8 C684.7,536.2 697.6,528.5 701.8,525.8" stroke="#e80000"/>
<path d="M321.8,487.6 C322.2,489.6 323.5,495.7 324.5,499.4 C325.5,503.1 327.0,506.5 328.0,510.0 C329.0,513.5 329.1,517.5 330.3,520.4 C331.5,523.3 333.4,525.3 335.0,527.4 C336.6,529.5 338.1,532.3 339.6,533.2 C341.2,534.1 342.7,532.3 344.3,532.7 C345.9,533.1 346.5,532.7 349.0,535.6 C351.5,538.5 355.4,546.9 359.1,550.0 C362.8,553.1 367.0,552.2 371.0,554.0 C375.0,555.8 378.9,558.1 382.9,560.9 C386.9,563.7 390.8,567.8 394.8,570.8 C398.8,573.8 402.7,575.1 406.7,578.7 C410.7,582.3 415.2,587.7 419.0,592.5 C422.8,597.3 426.3,603.3 429.7,607.6 C433.1,611.9 436.0,614.9 439.6,618.5 C443.2,622.1 447.5,625.6 451.5,629.4 C455.5,633.2 458.8,637.3 463.4,641.3 C468.0,645.3 473.4,649.9 479.3,653.2 C485.2,656.5 493.2,658.8 499.1,661.1 C505.1,663.4 510.4,665.8 515.0,667.0 C519.6,668.2 522.3,668.4 526.9,668.6 C531.5,668.8 537.4,668.3 542.7,668.0 C548.0,667.7 553.3,667.3 558.6,667.0 C563.9,666.7 569.5,666.6 574.4,666.0 C579.3,665.4 583.1,664.8 588.3,663.1 C593.5,661.4 598.6,657.7 605.6,655.9 C612.6,654.1 622.0,654.0 630.0,652.5 C638.0,651.0 645.5,649.0 653.3,646.7 C661.1,644.4 668.5,641.5 676.6,638.5 C684.7,635.5 697.6,630.6 701.8,629.0" stroke="#0000e0"/>
<path d="M322.1,475.5 C322.5,476.4 323.5,477.4 324.5,480.8 C325.5,484.2 326.8,491.5 328.0,496.0 C329.2,500.5 330.1,504.9 331.5,507.6 C332.9,510.3 334.6,510.9 336.1,512.3 C337.7,513.7 338.7,514.8 340.8,515.8 C342.9,516.8 346.7,516.5 349.0,518.1 C351.3,519.7 352.9,522.8 354.8,525.1 C356.7,527.4 358.5,530.8 360.6,532.1 C362.7,533.5 365.1,533.1 367.6,533.2 C370.1,533.3 373.1,532.3 375.8,532.7 C378.5,533.1 381.6,534.4 383.9,535.6 C386.2,536.8 386.6,538.4 389.7,540.0 C392.8,541.6 398.5,543.1 402.7,545.1 C406.9,547.1 411.0,549.0 414.6,552.0 C418.2,555.0 420.5,558.4 424.5,562.9 C428.5,567.4 433.2,572.9 438.4,578.7 C443.6,584.5 450.0,591.9 455.5,597.7 C461.0,603.5 466.1,608.9 471.4,613.5 C476.7,618.1 481.9,621.4 487.2,625.4 C492.5,629.4 497.8,633.7 503.1,637.3 C508.4,640.9 513.6,644.6 518.9,647.2 C524.2,649.9 529.5,651.4 534.8,653.2 C540.1,655.0 544.6,656.3 550.6,658.1 C556.6,659.9 564.5,662.5 570.5,664.1 C576.5,665.8 580.4,667.5 586.3,668.0 C592.1,668.5 598.3,667.1 605.6,666.9 C612.9,666.6 623.6,666.2 630.0,666.5 C636.4,666.8 638.2,668.8 644.0,668.8 C649.8,668.8 657.6,667.7 665.0,666.5 C672.4,665.3 679.6,663.3 688.3,661.8 C697.0,660.3 712.4,658.3 717.2,657.6" stroke="#008080"/>
<path d="M321.6,452.8 C322.1,453.8 323.4,455.3 324.5,458.6 C325.6,461.9 327.0,468.7 328.0,472.6 C329.0,476.5 329.3,480.1 330.3,482.0 C331.3,483.9 332.6,482.6 333.8,484.3 C335.0,486.0 335.8,490.8 337.3,492.4 C338.9,493.9 341.6,493.8 343.1,493.6 C344.7,493.4 345.1,490.1 346.6,491.3 C348.2,492.5 350.4,497.7 352.4,500.6 C354.3,503.5 356.1,506.9 358.3,508.8 C360.5,510.8 363.4,511.3 365.3,512.3 C367.2,513.3 368.1,514.2 369.9,514.6 C371.6,515.0 373.5,513.6 375.8,514.6 C378.1,515.6 381.0,518.4 383.9,520.4 C386.8,522.4 390.5,525.0 393.2,526.8 C395.9,528.5 397.8,529.5 400.0,530.9 C402.2,532.3 404.3,533.1 406.7,535.1 C409.1,537.1 411.2,538.5 414.6,543.1 C418.0,547.8 422.8,557.2 427.0,563.0 C431.2,568.8 435.0,572.5 440.0,578.0 C445.0,583.5 451.8,590.6 457.0,596.0 C462.2,601.4 466.4,606.8 471.4,610.5 C476.4,614.2 481.9,616.2 487.2,618.5 C492.5,620.8 497.8,622.8 503.1,624.4 C508.4,626.0 513.6,627.9 518.9,628.4 C524.2,628.9 531.3,627.8 534.8,627.4 C538.3,627.0 537.2,626.8 540.0,626.2 C542.8,625.6 547.8,624.5 551.7,623.9 C555.6,623.3 559.4,623.3 563.3,622.8 C567.2,622.3 571.1,622.0 575.0,621.0 C578.9,620.0 582.7,618.4 586.6,616.9 C590.5,615.4 594.4,613.6 598.3,612.3 C602.2,610.9 606.0,609.9 609.9,608.8 C613.8,607.7 617.7,606.6 621.6,605.9 C625.5,605.2 629.9,604.6 633.2,604.4 C636.6,604.2 638.4,604.8 641.7,604.5 C645.1,604.2 647.5,604.1 653.3,602.4 C659.1,600.7 668.5,596.8 676.6,594.2 C684.7,591.6 697.6,588.0 701.8,586.8" stroke="#f000f0"/>
<path d="M323.3,451.7 C323.6,451.7 324.2,449.4 325.0,451.7 C325.8,454.0 327.1,461.5 328.0,465.6 C328.9,469.7 329.1,473.6 330.3,476.1 C331.5,478.6 333.2,479.2 335.0,480.8 C336.8,482.4 338.9,484.2 340.8,485.5 C342.7,486.8 344.7,486.6 346.6,488.4 C348.5,490.1 350.4,493.2 352.4,496.0 C354.3,498.8 356.1,503.2 358.3,505.3 C360.5,507.4 363.0,508.0 365.3,508.8 C367.6,509.6 369.6,508.8 372.3,510.0 C375.0,511.2 378.5,513.3 381.6,515.8 C384.7,518.3 387.8,522.4 390.9,525.1 C394.0,527.8 396.7,529.3 400.0,532.0 C403.3,534.7 406.9,536.6 410.6,541.1 C414.4,545.6 418.3,552.5 422.5,558.9 C426.7,565.3 430.9,573.0 435.7,579.8 C440.5,586.6 446.2,593.3 451.5,599.6 C456.8,605.9 462.8,613.5 467.4,617.5 C472.0,621.5 475.3,622.1 479.3,623.4 C483.3,624.7 486.6,625.4 491.2,625.4 C495.8,625.4 501.7,624.7 507.0,623.4 C512.3,622.1 517.4,620.5 522.9,617.5 C528.4,614.5 535.2,608.7 540.0,605.3 C544.8,601.9 547.8,599.6 551.7,597.1 C555.6,594.6 559.4,592.1 563.3,590.1 C567.2,588.1 571.1,587.0 575.0,584.9 C578.9,582.8 582.7,579.9 586.6,577.3 C590.5,574.7 594.4,571.8 598.3,569.1 C602.2,566.4 606.0,563.3 609.9,561.0 C613.8,558.7 617.7,556.9 621.6,555.2 C625.5,553.6 627.9,552.8 633.2,551.1 C638.5,549.5 646.1,548.2 653.3,545.3 C660.5,542.4 668.5,537.6 676.6,533.6 C684.7,529.6 697.7,523.3 701.9,521.3" stroke="#808000"/>
</g>
</g>
<line x1="321.3" y1="451" x2="321.3" y2="744" stroke="#000" stroke-width="1.8"/>
<line x1="320.5" y1="743.4" x2="731.5" y2="743.4" stroke="#000" stroke-width="1.8"/>
<line x1="315.3" y1="743.0" x2="321.3" y2="743.0" stroke="#000" stroke-width="1.6"/>
<line x1="315.3" y1="687.9" x2="321.3" y2="687.9" stroke="#000" stroke-width="1.6"/>
<line x1="315.3" y1="632.8" x2="321.3" y2="632.8" stroke="#000" stroke-width="1.6"/>
<line x1="315.3" y1="577.7" x2="321.3" y2="577.7" stroke="#000" stroke-width="1.6"/>
<line x1="315.3" y1="522.6" x2="321.3" y2="522.6" stroke="#000" stroke-width="1.6"/>
<line x1="315.3" y1="467.5" x2="321.3" y2="467.5" stroke="#000" stroke-width="1.6"/>
<line x1="318" y1="715.45" x2="321.3" y2="715.45" stroke="#000" stroke-width="1.6"/>
<line x1="318" y1="660.35" x2="321.3" y2="660.35" stroke="#000" stroke-width="1.6"/>
<line x1="318" y1="605.25" x2="321.3" y2="605.25" stroke="#000" stroke-width="1.6"/>
<line x1="318" y1="550.15" x2="321.3" y2="550.15" stroke="#000" stroke-width="1.6"/>
<line x1="318" y1="495.04999999999995" x2="321.3" y2="495.04999999999995" stroke="#000" stroke-width="1.6"/>
<line x1="348.8" y1="743.4" x2="348.8" y2="751.3" stroke="#000" stroke-width="1.6"/>
<text transform="translate(348.8,771) scale(0.9,1)" font-family='"Liberation Sans", sans-serif' font-size="16.8" text-anchor="middle" fill="#000" >450</text>
<line x1="403.44" y1="743.4" x2="403.44" y2="751.3" stroke="#000" stroke-width="1.6"/>
<text transform="translate(403.44,771) scale(0.9,1)" font-family='"Liberation Sans", sans-serif' font-size="16.8" text-anchor="middle" fill="#000" >500</text>
<line x1="458.08000000000004" y1="743.4" x2="458.08000000000004" y2="751.3" stroke="#000" stroke-width="1.6"/>
<text transform="translate(458.08000000000004,771) scale(0.9,1)" font-family='"Liberation Sans", sans-serif' font-size="16.8" text-anchor="middle" fill="#000" >550</text>
<line x1="512.72" y1="743.4" x2="512.72" y2="751.3" stroke="#000" stroke-width="1.6"/>
<text transform="translate(512.72,771) scale(0.9,1)" font-family='"Liberation Sans", sans-serif' font-size="16.8" text-anchor="middle" fill="#000" >600</text>
<line x1="567.36" y1="743.4" x2="567.36" y2="751.3" stroke="#000" stroke-width="1.6"/>
<text transform="translate(567.36,771) scale(0.9,1)" font-family='"Liberation Sans", sans-serif' font-size="16.8" text-anchor="middle" fill="#000" >650</text>
<line x1="622.0" y1="743.4" x2="622.0" y2="751.3" stroke="#000" stroke-width="1.6"/>
<text transform="translate(622.0,771) scale(0.9,1)" font-family='"Liberation Sans", sans-serif' font-size="16.8" text-anchor="middle" fill="#000" >700</text>
<line x1="676.6400000000001" y1="743.4" x2="676.6400000000001" y2="751.3" stroke="#000" stroke-width="1.6"/>
<text transform="translate(676.6400000000001,771) scale(0.9,1)" font-family='"Liberation Sans", sans-serif' font-size="16.8" text-anchor="middle" fill="#000" >750</text>
<line x1="731.28" y1="743.4" x2="731.28" y2="751.3" stroke="#000" stroke-width="1.6"/>
<text transform="translate(731.28,771) scale(0.9,1)" font-family='"Liberation Sans", sans-serif' font-size="16.8" text-anchor="middle" fill="#000" >800</text>
<line x1="321.5" y1="743.4" x2="321.5" y2="747.8" stroke="#000" stroke-width="1.6"/>
<line x1="376.14" y1="743.4" x2="376.14" y2="747.8" stroke="#000" stroke-width="1.6"/>
<line x1="430.78" y1="743.4" x2="430.78" y2="747.8" stroke="#000" stroke-width="1.6"/>
<line x1="485.42" y1="743.4" x2="485.42" y2="747.8" stroke="#000" stroke-width="1.6"/>
<line x1="540.06" y1="743.4" x2="540.06" y2="747.8" stroke="#000" stroke-width="1.6"/>
<line x1="594.7" y1="743.4" x2="594.7" y2="747.8" stroke="#000" stroke-width="1.6"/>
<line x1="649.34" y1="743.4" x2="649.34" y2="747.8" stroke="#000" stroke-width="1.6"/>
<line x1="703.98" y1="743.4" x2="703.98" y2="747.8" stroke="#000" stroke-width="1.6"/>
<text transform="translate(310.8,748.2) scale(0.87,1)" font-family='"Liberation Sans", sans-serif' font-size="17.3" text-anchor="end" fill="#000" >0,0</text>
<text transform="translate(310.8,693.1) scale(0.87,1)" font-family='"Liberation Sans", sans-serif' font-size="17.3" text-anchor="end" fill="#000" >0,1</text>
<text transform="translate(310.8,638.0) scale(0.87,1)" font-family='"Liberation Sans", sans-serif' font-size="17.3" text-anchor="end" fill="#000" >0,2</text>
<text transform="translate(310.8,582.9000000000001) scale(0.87,1)" font-family='"Liberation Sans", sans-serif' font-size="17.3" text-anchor="end" fill="#000" >0,3</text>
<text transform="translate(310.8,527.8000000000001) scale(0.87,1)" font-family='"Liberation Sans", sans-serif' font-size="17.3" text-anchor="end" fill="#000" >0,4</text>
<text transform="translate(310.8,472.7) scale(0.87,1)" font-family='"Liberation Sans", sans-serif' font-size="17.3" text-anchor="end" fill="#000" >0,5</text>
<text transform="translate(284.4,598.3) rotate(-90)" font-family='"Liberation Serif", serif' font-size="21" text-anchor="middle" fill="#000" >Transmission</text>
<g clip-path="url(#cl3b)">
<text transform="translate(473.75,801.25) scale(0.85,1)" font-family='"Liberation Sans", sans-serif' font-size="17" text-anchor="start" fill="#000" >Wavelength, nm</text>
</g>
<rect x="705.9" y="505.8" width="63.6" height="134" fill="#fff" stroke="none"/>
<line x1="705.9" y1="505.8" x2="769.5" y2="505.8" stroke="#aaa" stroke-width="1"/>
<line x1="705.9" y1="639.8" x2="769.5" y2="639.8" stroke="#aaa" stroke-width="1"/>
<line x1="705.9" y1="505.8" x2="705.9" y2="639.8" stroke="#aaa" stroke-width="1"/>
<line x1="706.6" y1="517.0" x2="740.2" y2="517.0" stroke="#000" stroke-width="2.4"/>
<text transform="translate(743.6,523.1) scale(0.85,1)" font-family='"Liberation Sans", sans-serif' font-size="17" text-anchor="start" fill="#000" >room</text>
<line x1="706.6" y1="538.9" x2="740.2" y2="538.9" stroke="#e80000" stroke-width="2.4"/>
<text transform="translate(743.6,545.0) scale(0.85,1)" font-family='"Liberation Sans", sans-serif' font-size="17" text-anchor="start" fill="#000" >122</text>
<line x1="706.6" y1="561.8" x2="740.2" y2="561.8" stroke="#0000e0" stroke-width="2.4"/>
<text transform="translate(743.6,567.9) scale(0.85,1)" font-family='"Liberation Sans", sans-serif' font-size="17" text-anchor="start" fill="#000" >157</text>
<line x1="706.6" y1="584.4" x2="740.2" y2="584.4" stroke="#008080" stroke-width="2.4"/>
<text transform="translate(743.6,590.5) scale(0.85,1)" font-family='"Liberation Sans", sans-serif' font-size="17" text-anchor="start" fill="#000" >200</text>
<line x1="706.6" y1="606.9" x2="740.2" y2="606.9" stroke="#f000f0" stroke-width="2.4"/>
<text transform="translate(743.6,613.0) scale(0.85,1)" font-family='"Liberation Sans", sans-serif' font-size="17" text-anchor="start" fill="#000" >230</text>
<line x1="706.6" y1="629.5" x2="740.2" y2="629.5" stroke="#808000" stroke-width="2.4"/>
<text transform="translate(743.6,635.6) scale(0.85,1)" font-family='"Liberation Sans", sans-serif' font-size="17" text-anchor="start" fill="#000" >310</text>
<path d="M270.5,474.5 l0.6,2.4" stroke="#000" stroke-width="1.2"/>
<text transform="translate(450.9,850.3) scale(1.013,1)" font-family='"Liberation Sans", sans-serif' font-size="19.5" text-anchor="start" fill="#000" >Au-PTFE film 3</text>
</svg></body></html>
